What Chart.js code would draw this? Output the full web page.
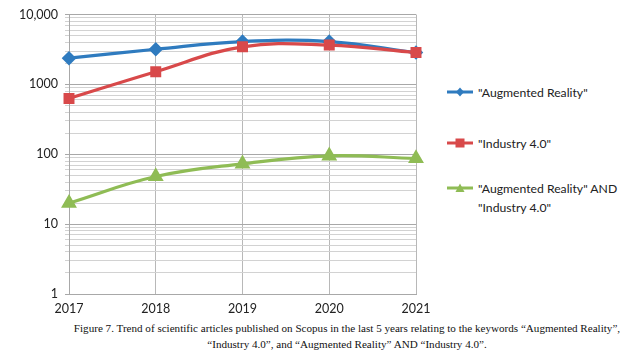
<!DOCTYPE html>
<html><head><meta charset="utf-8">
<script src="https://cdn.jsdelivr.net/npm/chart.js@4/dist/chart.umd.min.js"></script>
<style>
body{margin:0;background:#fff;width:630px;height:360px;position:relative;overflow:hidden}
#wrap{position:absolute;left:0;top:0;width:440px;height:318px}
.leg{position:absolute;left:478px;font-family:Lato,sans-serif;font-size:12.2px;color:#222;line-height:19px;white-space:nowrap}
.mk{position:absolute;left:447px}
#cap{position:absolute;left:60px;width:574px;top:320px;text-align:center;font-family:"Liberation Serif",serif;font-size:11.1px;line-height:16px;color:#111}
</style></head><body>
<div id="wrap"><canvas id="c"></canvas></div>
<svg class="mk" style="top:86px" width="26" height="12"><line x1="0" y1="6" x2="26" y2="6" stroke="#2f7bbf" stroke-width="3"/><path d="M13 1.5 L17 6 L13 10.5 L9 6 Z" fill="#2f7bbf"/></svg>
<div class="leg" style="top:83px">"Augmented Reality"</div>
<svg class="mk" style="top:137px" width="26" height="12"><line x1="0" y1="6" x2="26" y2="6" stroke="#d8494a" stroke-width="3"/><rect x="8.5" y="1.5" width="9" height="9" fill="#d8494a"/></svg>
<div class="leg" style="top:134px">"Industry 4.0"</div>
<svg class="mk" style="top:182px" width="26" height="12"><line x1="0" y1="6" x2="26" y2="6" stroke="#8fbc55" stroke-width="3"/><path d="M13 1.5 L17.5 10 L8.5 10 Z" fill="#8fbc55"/></svg>
<div class="leg" style="top:179px">"Augmented Reality" AND<br>"Industry 4.0"</div>
<div id="cap">Figure 7. Trend of scientific articles published on Scopus in the last 5 years relating to the keywords “Augmented Reality”,<br>“Industry 4.0”, and “Augmented Reality” AND “Industry 4.0”.</div>
<script>
const years = ['2017','2018','2019','2020','2021'];
const arValues = [2370, 3180, 4100, 4100, 2850];
const industryValues = [630, 1520, 3450, 3650, 2850];
const bothValues = [20, 48, 73, 95, 87];
const seriesNames = ['"Augmented Reality"', '"Industry 4.0"', '"Augmented Reality" AND "Industry 4.0"'];
const majorTickValues = [1, 10, 100, 1000, 10000];
const majorTickLabels = ['1', '10', '100', '1000', '10,000'];
const gridValues = [1,2,3,4,5,6,7,8,9,10,20,30,40,50,60,70,80,90,100,200,300,400,500,600,700,800,900,1000,2000,3000,4000,5000,6000,7000,8000,9000,10000];

const font = {family: 'Lato, sans-serif', size: 12.5};
new Chart(document.getElementById('c'), {
  type: 'line',
  data: {
    labels: years,
    datasets: [
      {label: seriesNames[0], data: arValues, borderColor: '#2f7bbf', backgroundColor: '#2f7bbf', pointStyle: 'rectRot', pointRadius: 5, borderWidth: 3.2, tension: 0.4, order: 2},
      {label: seriesNames[1], data: industryValues, borderColor: '#d8494a', backgroundColor: '#d8494a', pointStyle: 'rect', pointRadius: 5.5, borderWidth: 3.2, tension: 0.4, order: 1},
      {label: seriesNames[2], data: bothValues, borderColor: '#8fbc55', backgroundColor: '#8fbc55', pointStyle: 'triangle', pointRadius: 6, borderWidth: 3.2, tension: 0.4, order: 0}
    ]
  },
  options: {
    responsive: true, maintainAspectRatio: false, animation: false,
    layout: {padding: {top: 13, right: 24, left: 0, bottom: 0}},
    plugins: {legend: {display: false}, tooltip: {enabled: false}},
    scales: {
      x: {
        grid: {color: '#b8b8b8', tickLength: 0, lineWidth: 1},
        border: {color: '#a8a8a8'},
        ticks: {font: font, color: '#222', padding: 7, maxRotation: 0},
        afterFit: s => { s.height = 24; }
      },
      y: {
        type: 'logarithmic', min: 1, max: 10000,
        afterBuildTicks: s => { s.ticks = gridValues.map(v => ({value: v, major: majorTickValues.includes(v)})); },
        afterFit: s => { s.width = 69; },
        grid: {color: c => (c.tick && majorTickValues.includes(c.tick.value)) ? '#a8a8a8' : '#d2d2d2', tickLength: 4},
        border: {color: '#a8a8a8'},
        ticks: {font: font, color: '#222', padding: 7, autoSkip: false,
          callback: v => { const i = majorTickValues.indexOf(v); return i >= 0 ? majorTickLabels[i] : ''; }}
      }
    }
  }
});
</script>
</body></html>
